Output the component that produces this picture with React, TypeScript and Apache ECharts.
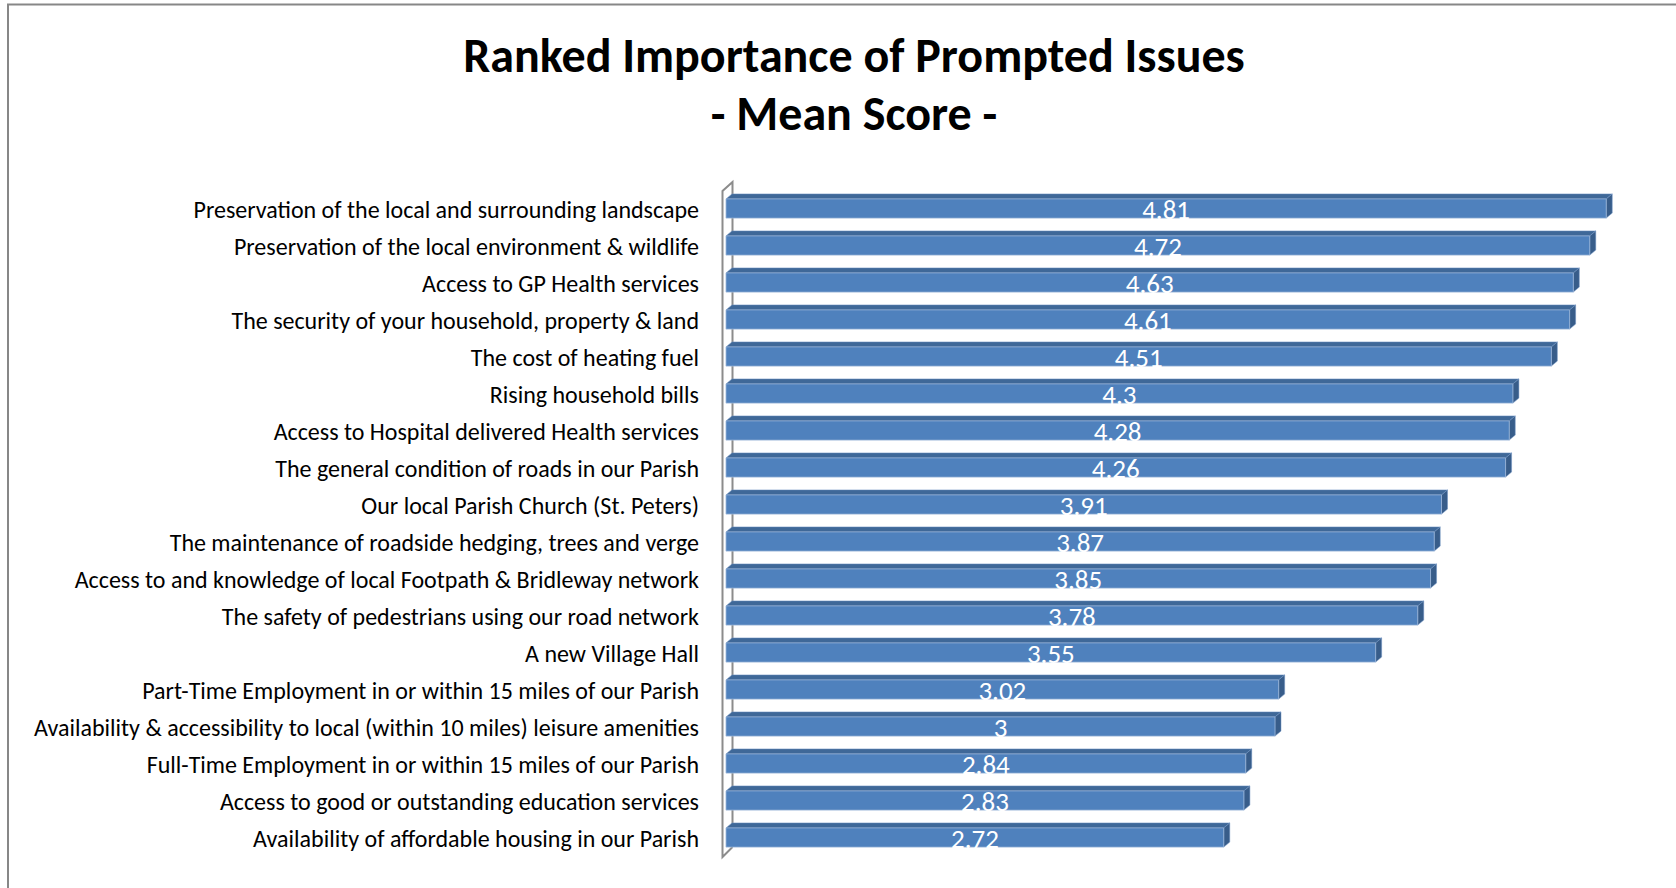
import React, { useEffect, useRef } from "react";
import * as echarts from "echarts";

const categories: string[] = [
  "Preservation of the local and surrounding landscape",
  "Preservation of the local environment & wildlife",
  "Access to GP Health services",
  "The security of your household, property & land",
  "The cost of heating fuel",
  "Rising household bills",
  "Access to Hospital delivered Health services",
  "The general condition of roads in our Parish",
  "Our local Parish Church (St. Peters)",
  "The maintenance of roadside hedging, trees and verge",
  "Access to and knowledge of local Footpath & Bridleway network",
  "The safety of pedestrians using our road network",
  "A new Village Hall",
  "Part-Time Employment in or within 15 miles of our Parish",
  "Availability & accessibility to local (within 10 miles) leisure amenities",
  "Full-Time Employment in or within 15 miles of our Parish",
  "Access to good or outstanding education services",
  "Availability of affordable housing in our Parish",
];

const meanScores: number[] = [
  4.81, 4.72, 4.63, 4.61, 4.51, 4.3, 4.28, 4.26, 3.91, 3.87, 3.85, 3.78, 3.55,
  3.02, 3, 2.84, 2.83, 2.72,
];

const titleText = "Ranked Importance of Prompted Issues\n- Mean Score -";
const FONT = "Carlito, Calibri, Lato, sans-serif";

export default function App() {
  const ref = useRef<HTMLDivElement>(null);

  useEffect(() => {
    if (!ref.current) return;
    const chart = echarts.init(ref.current, undefined, { renderer: "svg" });

    const gridLeft = 726;
    const gridTop = 191;
    const gridBottom = 31;
    const gridRight = 35;
    const H = 888;

    const data = meanScores.map((v, i) => [v, i]);

    const option: any = {
      animation: false,
      backgroundColor: "#ffffff",
      title: {
        text: titleText,
        left: 849,
        top: 21,
        textAlign: "center",
        textStyle: {
          fontFamily: FONT,
          fontSize: 48,
          fontWeight: "bold",
          color: "#000000",
          lineHeight: 58,
        },
      },
      grid: {
        left: gridLeft,
        right: gridRight,
        top: gridTop,
        bottom: gridBottom,
        containLabel: false,
      },
      xAxis: {
        type: "value",
        min: 0,
        max: 5,
        show: false,
        splitLine: { show: false },
      },
      yAxis: {
        type: "category",
        data: categories,
        inverse: true,
        axisLine: { show: false },
        axisTick: { show: false },
        splitLine: { show: false },
        axisLabel: {
          margin: 27,
          fontFamily: FONT,
          fontSize: 24,
          color: "#000000",
          padding: [13, 0, 0, 0],
        },
      },
      graphic: [
        {
          type: "polyline",
          z: 0,
          silent: true,
          shape: {
            points: [
              [gridLeft + 6.5, H - gridBottom - 10],
              [gridLeft - 3.5, H - gridBottom],
              [gridLeft - 3.5, gridTop],
              [gridLeft + 6.5, gridTop - 9],
              [gridLeft + 6.5, H - gridBottom - 10],
            ],
          },
          style: { stroke: "#8c8c8c", lineWidth: 2, fill: null },
        },
        {
          type: "polyline",
          z: 0,
          silent: true,
          shape: {
            points: [
              [1700, 4.5],
              [8, 4.5],
              [8, 900],
            ],
          },
          style: { stroke: "#878787", lineWidth: 2, fill: null },
        },
      ],
      series: [
        {
          type: "custom",
          z: 2,
          encode: { x: 0, y: 1 },
          data,
          renderItem: (params: any, api: any) => {
            const v = api.value(0);
            const idx = api.value(1);
            const start = api.coord([0, idx]);
            const end = api.coord([v, idx]);
            const band = api.size([0, 1])[1];
            const h = band * 0.52;
            const x0 = start[0];
            const x1 = end[0];
            const yt = end[1] - h / 2 - 1;
            const dx = 6;
            const dy = -5;
            return {
              type: "group",
              children: [
                {
                  type: "polygon",
                  shape: {
                    points: [
                      [x0, yt],
                      [x0 + dx, yt + dy],
                      [x1 + dx, yt + dy],
                      [x1, yt],
                    ],
                  },
                  style: { fill: "#3f6898", stroke: "#6f93c2", lineWidth: 0.5 },
                },
                {
                  type: "polygon",
                  shape: {
                    points: [
                      [x1, yt],
                      [x1 + dx, yt + dy],
                      [x1 + dx, yt + dy + h],
                      [x1, yt + h],
                    ],
                  },
                  style: { fill: "#385d8a", stroke: "#6f93c2", lineWidth: 0.5 },
                },
                {
                  type: "rect",
                  shape: { x: x0, y: yt, width: x1 - x0, height: h },
                  style: { fill: "#4f81bd", stroke: "#9bb5d8", lineWidth: 0.8 },
                },
                {
                  type: "text",
                  x: (x0 + x1) / 2,
                  y: yt + h / 2 + 0.5,
                  style: {
                    text: String(v),
                    fill: "#ffffff",
                    fontFamily: FONT,
                    fontSize: 27,
                    align: "center",
                    verticalAlign: "middle",
                  },
                },
              ],
            };
          },
        },
      ],
    };

    chart.setOption(option);
    return () => {
      chart.dispose();
    };
  }, []);

  return (
    <div
      ref={ref}
      style={{
        position: "fixed",
        left: 0,
        top: 0,
        width: "1676px",
        height: "888px",
        background: "#ffffff",
      }}
    />
  );
}
